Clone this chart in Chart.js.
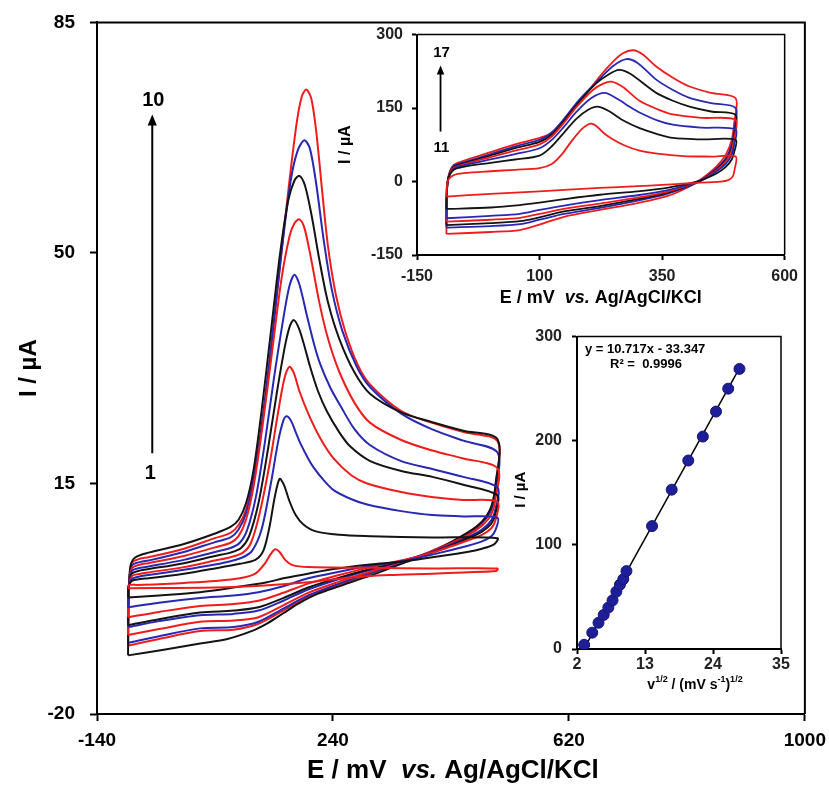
<!DOCTYPE html>
<html><head><meta charset="utf-8">
<script src="https://cdn.jsdelivr.net/npm/chart.js@4.4.1/dist/chart.umd.min.js"></script>
<style>
html,body{margin:0;padding:0;background:#fff;}
#wrap{position:relative;width:829px;height:785px;overflow:hidden;background:#fff;}
canvas{position:absolute;}
</style></head><body>
<div id="wrap">
<canvas id="main" width="829" height="785" style="left:0;top:0;width:829px;height:785px"></canvas>
<canvas id="ins1" width="470" height="290" style="left:330px;top:25px;width:470px;height:290px"></canvas>
<canvas id="ins2" width="300" height="390" style="left:500px;top:325px;width:300px;height:390px"></canvas>
</div>
<script>
// ---------------- DATA ----------------
// Main CV (curves 1-10): [E / mV, I / uA], forward (anodic) and reverse branches
const mainXTicks = [-140, 240, 620, 1000];
const mainYTicks = [-20, 15, 50, 85];

const cv1Fwd = [[-90,-0.8],[-88,-0.4],[-75,-0.4],[-40,-0.3],[0,-0.1],[50,0.2],[90,0.6],[115,1.3],[130,2.8],[140,4.3],[147,5.0],[154,4.6],[163,3.4],[175,2.6],[200,2.3],[300,2.2],[400,2.1],[505,2.1]];
const cv1Rev = [[503,1.7],[450,1.5],[400,1.3],[330,1.1],[265,0.7],[200,0.0],[130,-0.5],[50,-0.8],[-90,-0.9]];
const cv2Fwd = [[-90,-2.3],[-89,-0.6],[-84,0.2],[-70,0.5],[-57,0.6],[0,1.3],[50,2.1],[90,2.8],[115,3.4],[128,4.8],[138,8.5],[146,12.8],[154,15.7],[161,14.8],[170,12.3],[180,10.2],[192,8.8],[210,7.8],[250,7.2],[300,7.0],[400,6.8],[505,6.7]];
const cv2Rev = [[500,5.8],[480,5.1],[456,4.6],[400,3.8],[349,3.1],[300,2.7],[241,2.0],[200,1.3],[160,0.6],[134,0.0],[80,-0.8],[26,-1.5],[-40,-2.0],[-90,-2.3]];
const cv3Fwd = [[-90,-3.8],[-89,-0.5],[-84,0.5],[-70,0.9],[-57,1.1],[0,1.9],[50,2.7],[75,3.2],[95,3.8],[110,4.8],[125,8.0],[140,15.0],[152,21.5],[160,24.5],[165,25.2],[172,24.6],[180,22.8],[187,21.2],[200,18.8],[209,17.4],[225,15.5],[241,14.0],[270,12.6],[295,11.8],[350,10.8],[400,10.2],[450,10.0],[505,9.8]];
const cv3Rev = [[502,8.0],[495,7.0],[480,6.2],[456,5.5],[400,4.2],[350,3.2],[300,2.5],[250,1.6],[200,0.6],[160,-0.6],[120,-1.5],[80,-2.0],[26,-2.4],[-40,-3.1],[-90,-3.8]];
const cv4Fwd = [[-90,-5.3],[-89,-0.9],[-84,0.9],[-70,1.3],[-57,1.5],[0,2.3],[50,3.3],[75,3.8],[95,4.5],[108,6.0],[122,10.5],[138,18.0],[152,26.0],[162,31.0],[170,32.7],[177,31.8],[186,29.0],[203,25.0],[220,21.8],[241,18.8],[270,16.2],[295,15.0],[350,13.7],[402,12.9],[450,12.5],[505,12.2]];
const cv4Rev = [[502,9.5],[495,8.2],[480,7.2],[456,6.3],[400,4.5],[350,3.3],[300,2.3],[250,1.1],[200,-0.2],[160,-1.6],[120,-2.8],[80,-3.3],[26,-3.6],[-40,-4.5],[-90,-5.3]];
const cv5Fwd = [[-90,-6.5],[-89,-1.0],[-84,1.3],[-70,1.8],[-57,2.0],[0,2.9],[50,4.0],[75,4.5],[92,5.2],[105,7.0],[120,12.0],[135,20.0],[150,29.0],[163,36.0],[171,39.0],[177,39.8],[185,38.6],[193,36.2],[203,32.8],[216,29.0],[230,26.0],[250,22.8],[268,20.6],[300,18.4],[350,16.9],[400,16.0],[450,14.8],[505,13.2]];
const cv5Rev = [[502,10.5],[495,8.9],[480,7.7],[456,6.6],[400,4.5],[350,3.2],[300,2.0],[250,0.7],[200,-0.8],[160,-2.4],[120,-3.8],[80,-4.3],[26,-4.6],[-40,-5.6],[-90,-6.5]];
const cv6Fwd = [[-90,-6.8],[-89,-1.0],[-84,1.7],[-70,2.2],[-57,2.4],[0,3.4],[50,4.6],[75,5.2],[90,6.0],[102,8.0],[116,13.0],[130,21.0],[145,31.0],[160,40.0],[170,45.0],[178,46.7],[186,45.2],[198,40.5],[210,36.0],[220,33.0],[236,29.5],[252,26.8],[275,23.2],[300,20.8],[350,18.4],[400,17.2],[450,16.0],[505,14.4]];
const cv6Rev = [[502,11.2],[495,9.4],[480,8.0],[456,6.8],[400,4.6],[350,3.2],[300,1.9],[250,0.5],[200,-1.1],[160,-2.8],[120,-4.3],[80,-4.8],[26,-5.0],[-40,-5.9],[-90,-6.8]];
const cv7Fwd = [[-90,-8.0],[-89,-1.3],[-84,2.1],[-70,2.7],[-57,2.9],[0,4.0],[50,5.3],[75,6.0],[88,7.0],[100,9.5],[113,15.0],[127,24.0],[142,35.0],[157,46.0],[170,52.5],[178,54.5],[186,55.1],[194,53.8],[205,49.0],[218,42.5],[232,37.0],[250,32.0],[275,27.2],[300,24.2],[350,21.6],[400,20.0],[450,18.8],[505,17.3]];
const cv7Rev = [[502,12.8],[495,10.3],[480,8.6],[456,7.1],[400,4.7],[350,3.1],[300,1.6],[250,0.1],[200,-1.6],[160,-3.5],[120,-5.3],[80,-5.8],[26,-6.0],[-40,-7.1],[-90,-8.0]];
const cv8Fwd = [[-90,-11.1],[-89,-2.0],[-86,2.5],[-78,3.8],[-57,4.5],[0,5.8],[50,7.4],[75,8.4],[88,9.5],[100,12.0],[112,17.0],[125,26.0],[140,38.0],[155,50.0],[168,58.0],[178,61.0],[186,61.7],[195,60.2],[206,55.5],[218,49.0],[232,42.5],[250,37.0],[275,31.8],[300,28.6],[350,25.8],[400,24.3],[450,23.0],[505,21.7]];
const cv8Rev = [[502,15.0],[495,11.5],[480,9.2],[456,7.5],[400,4.6],[350,2.8],[300,1.0],[250,-0.6],[214,-1.8],[185,-3.2],[160,-4.7],[135,-6.2],[112,-7.3],[70,-8.6],[26,-9.3],[-30,-10.2],[-90,-11.1]];
const cv9Fwd = [[-90,-9.2],[-89,-1.5],[-84,2.5],[-70,3.1],[-57,3.3],[0,4.6],[50,6.1],[75,6.8],[88,8.0],[100,10.5],[113,16.0],[127,25.0],[142,37.0],[157,50.0],[172,61.0],[183,65.5],[194,67.1],[203,65.8],[213,60.5],[225,52.0],[238,44.5],[255,38.2],[278,32.8],[300,29.6],[350,25.6],[400,23.2],[450,21.5],[505,19.7]];
const cv9Rev = [[502,14.0],[495,11.0],[480,9.0],[456,7.3],[400,4.7],[350,3.0],[300,1.4],[250,-0.2],[200,-2.0],[160,-4.0],[120,-6.0],[80,-6.8],[26,-7.0],[-40,-8.2],[-90,-9.2]];
const cv10Fwd = [[-90,-9.6],[-89,-1.5],[-84,2.9],[-70,3.6],[-57,3.8],[0,5.1],[50,6.7],[75,7.5],[88,8.7],[100,11.0],[113,16.5],[127,25.0],[142,37.0],[157,50.0],[170,61.0],[182,70.0],[190,73.8],[197,74.8],[205,73.5],[213,68.5],[222,60.0],[232,51.0],[245,43.5],[260,38.0],[280,33.0],[300,30.0],[350,26.0],[400,24.2],[450,22.8],[505,21.4]];
const cv10Rev = [[502,14.8],[495,11.4],[480,9.2],[456,7.4],[400,4.8],[350,3.0],[300,1.3],[250,-0.3],[200,-2.2],[160,-4.3],[120,-6.3],[80,-7.2],[26,-7.4],[-40,-8.6],[-90,-9.6]];

// Inset CV (curves 11-17)
const insXTicks = [-150, 100, 350, 600];
const insYTicks = [-150, 0, 150, 300];
const cv11Fwd = [[-90,-31],[-89,-8],[-85,5],[-75,13],[-55,17],[0,21],[50,24],[100,27.5],[125,36],[145,55],[165,82],[185,106],[198,116],[206,118],[215,114],[232,98],[250,86],[275,73],[304,63],[340,57],[393,52],[450,51],[500,51]];
const cv11Rev = [[498,25],[494,10],[485,3],[470,0],[406,-3.5],[350,-7],[300,-9.5],[223,-13],[150,-17],[100,-20],[0,-25],[-90,-31]];
const cv12Fwd = [[-90,-56],[-89,-10],[-85,10],[-75,24],[-55,30],[0,38],[50,45],[100,53],[125,72],[150,100],[175,128],[200,147],[219,153],[243,143],[270,125],[304,109],[340,97],[372,89],[430,86],[500,85]];
const cv12Rev = [[497,60],[492,45],[480,30],[460,16],[430,3],[406,-4],[360,-13],[300,-20],[223,-27],[150,-36],[100,-43],[60,-48],[0,-53],[-90,-56]];
const cv13Fwd = [[-90,-75],[-89,-15],[-85,10],[-75,26],[-55,33],[0,45],[50,56],[100,68],[125,85],[150,112],[175,142],[205,170],[233,181],[260,168],[285,152],[304,141],[340,125],[372,116],[430,110],[500,106]];
const cv13Rev = [[497,75],[492,55],[480,36],[460,20],[430,2],[406,-6],[360,-18],[300,-28],[223,-38],[150,-49],[100,-58],[60,-66],[0,-70],[-90,-75]];
const cv14Fwd = [[-90,-82],[-89,-18],[-85,12],[-75,28],[-55,35],[0,50],[50,63],[100,76],[125,92],[150,120],[175,152],[210,188],[230,200],[247,204],[270,193],[304,165],[340,148],[372,137],[430,130],[500,126]];
const cv14Rev = [[497,88],[492,63],[480,41],[460,22],[430,2],[406,-7],[360,-21],[300,-33],[223,-45],[150,-56],[100,-66],[60,-74],[0,-78],[-90,-82]];
const cv15Fwd = [[-90,-89],[-89,-20],[-85,12],[-75,30],[-55,37],[0,53],[50,68],[100,81],[125,96],[150,124],[180,162],[215,200],[240,218],[262,228],[285,220],[338,181],[372,165],[406,153],[450,143],[500,136]];
const cv15Rev = [[497,95],[492,68],[480,44],[460,24],[430,2],[406,-8],[360,-23],[300,-36],[223,-50],[150,-61],[100,-73],[60,-81],[0,-85],[-90,-89]];
const cv16Fwd = [[-90,-94],[-89,-22],[-85,13],[-75,32],[-55,39],[0,56],[50,72],[100,85],[125,100],[150,128],[180,166],[223,210],[250,236],[277,250],[300,242],[338,208],[372,187],[406,171],[450,160],[500,150]];
const cv16Rev = [[497,105],[492,75],[480,48],[460,26],[430,3],[406,-9],[360,-25],[300,-39],[223,-54],[150,-66],[100,-78],[60,-87],[0,-91],[-90,-94]];
const cv17Fwd = [[-90,-107],[-89,-25],[-85,14],[-75,34],[-55,42],[0,60],[50,76],[100,89],[125,100],[168,147],[200,185],[223,215],[250,245],[270,262],[291,268],[310,260],[338,235],[372,212],[406,194],[450,181],[500,170]];
const cv17Rev = [[497,120],[492,85],[480,55],[460,30],[430,5],[406,-10],[360,-30],[300,-44],[223,-58],[150,-72],[100,-88],[60,-99],[0,-103],[-90,-107]];

// Peak current vs square root of scan rate
const fitXTicks = [2, 13, 24, 35];
const fitYTicks = [0, 100, 200, 300];
const sqrtScanRate = [3.16, 4.47, 5.48, 6.32, 7.07, 7.75, 8.37, 8.94, 9.49, 10.0, 14.14, 17.32, 20.0, 22.36, 24.49, 26.46, 28.28];
const peakCurrent  = [4, 15.7, 25.2, 32.7, 39.8, 46.7, 55.1, 61.7, 67.1, 74.8, 118, 153, 181, 204, 228, 250, 269];
const fitSlope = 10.717, fitIntercept = -33.347;

// ---------------- STYLE ----------------
const FONT = "'Liberation Sans', Arial, sans-serif";
const RED = '#f01c1c', BLUE = '#2828b4', BLACK = '#141414';
const mainColors = [RED, BLACK, BLUE, RED, BLACK, BLUE, RED, BLACK, BLUE, RED];
const insColors = [RED, BLACK, BLUE, RED, BLACK, BLUE, RED];

function toXY(fwd, rev) { return fwd.concat(rev).map(p => ({x: p[0], y: p[1]})); }

function axis(tickArr, min, max, o) {
  return {
    type: 'linear', min: min, max: max,
    afterBuildTicks: s => { s.ticks = tickArr.map(v => ({value: v})); },
    afterFit: o.fit,
    ticks: {callback: v => String(v), font: {family: FONT, size: o.fs, weight: 'bold'}, color: o.tc, padding: o.pad, autoSkip: false, maxRotation: 0},
    grid: {drawOnChartArea: false, drawTicks: true, tickLength: o.tl, tickColor: '#000', tickWidth: o.bw},
    border: {display: true, color: '#000', width: o.bw},
    title: {display: false}
  };
}
function frame(chart, w) {
  const ctx = chart.ctx, a = chart.chartArea;
  ctx.save(); ctx.strokeStyle = '#000'; ctx.lineWidth = w;
  ctx.beginPath(); ctx.moveTo(a.left, a.top); ctx.lineTo(a.right, a.top); ctx.lineTo(a.right, a.bottom); ctx.stroke();
  ctx.restore();
}
function textRun(ctx, parts, cx, cy, align) {
  let total = 0;
  parts.forEach(p => { ctx.font = p[1]; total += ctx.measureText(p[0]).width; });
  let x = align === 'left' ? cx : cx - total / 2;
  ctx.textAlign = 'left'; ctx.textBaseline = 'middle';
  parts.forEach(p => { ctx.font = p[1]; ctx.fillText(p[0], x, cy + (p[2] || 0)); x += ctx.measureText(p[0]).width; });
}
function arrow(ctx, x, yBottom, yTip, head, lw) {
  ctx.lineWidth = lw;
  ctx.beginPath(); ctx.moveTo(x, yBottom); ctx.lineTo(x, yTip + head * 0.8); ctx.stroke();
  ctx.beginPath(); ctx.moveTo(x, yTip); ctx.lineTo(x - head * 0.42, yTip + head); ctx.lineTo(x + head * 0.42, yTip + head); ctx.closePath(); ctx.fill();
}
function rotText(ctx, parts, x, y) {
  ctx.save(); ctx.translate(x, y); ctx.rotate(-Math.PI / 2); textRun(ctx, parts, 0, 0); ctx.restore();
}
// Build a chart, then move/resize its canvas so that the plot area lands on the wanted page rectangle
function build(id, makeCfg, target) {
  const cv = document.getElementById(id);
  let chart = new Chart(cv, makeCfg());
  const a = chart.chartArea, W = cv.width, H = cv.height;
  const left = parseFloat(cv.style.left) + (target.left - (parseFloat(cv.style.left) + a.left));
  const top = parseFloat(cv.style.top) + (target.top - (parseFloat(cv.style.top) + a.top));
  const w = Math.round(a.left + (target.right - target.left) + (W - a.right));
  const h = Math.round(a.top + (target.bottom - target.top) + (H - a.bottom));
  chart.destroy();
  cv.width = w; cv.height = h;
  cv.style.width = w + 'px'; cv.style.height = h + 'px';
  cv.style.left = Math.round(left) + 'px'; cv.style.top = Math.round(top) + 'px';
  return new Chart(cv, makeCfg());
}

const baseOpts = {responsive: false, animation: false, devicePixelRatio: 1, events: [],
  plugins: {legend: {display: false}, tooltip: {enabled: false}}};

// ---------------- MAIN CHART ----------------
const mainCurves = [[cv1Fwd,cv1Rev],[cv2Fwd,cv2Rev],[cv3Fwd,cv3Rev],[cv4Fwd,cv4Rev],[cv5Fwd,cv5Rev],[cv6Fwd,cv6Rev],[cv7Fwd,cv7Rev],[cv8Fwd,cv8Rev],[cv9Fwd,cv9Rev],[cv10Fwd,cv10Rev]];
const mainDeco = {
  id: 'mainDeco',
  afterDraw(chart) {
    const ctx = chart.ctx, xs = chart.scales.x, ys = chart.scales.y, a = chart.chartArea;
    frame(chart, 2);
    ctx.save(); ctx.fillStyle = '#000'; ctx.strokeStyle = '#000';
    const ax = xs.getPixelForValue(-51);
    arrow(ctx, ax, ys.getPixelForValue(19.6), ys.getPixelForValue(71), 11, 2);
    const f20 = 'bold 20px ' + FONT;
    textRun(ctx, [['10', f20]], ax + 1, ys.getPixelForValue(73.2));
    textRun(ctx, [['1', f20]], ax - 2, ys.getPixelForValue(16.5));
    const f = 'bold 26px ' + FONT, fi = 'italic bold 26px ' + FONT;
    textRun(ctx, [['E / mV  ', f], ['vs.', fi], [' Ag/AgCl/KCl', f]], (a.left + a.right) / 2 + 2, a.bottom + 57);
    rotText(ctx, [['I / µA', 'bold 24px ' + FONT]], a.left - 68, (a.top + a.bottom) / 2);
    ctx.restore();
  }
};
build('main', () => ({
  type: 'scatter',
  data: {datasets: mainCurves.map((c, i) => ({data: toXY(c[0], c[1]), borderColor: mainColors[i], borderWidth: 2, showLine: true, pointRadius: 0, tension: 0.3, fill: false}))},
  options: Object.assign({}, baseOpts, {
    layout: {padding: {left: 0, top: 22, right: 24, bottom: 0}},
    scales: {
      x: axis(mainXTicks, -140, 1000, {fit: s => { s.height = 71; }, fs: 19, tc: '#000', pad: 8, tl: 7, bw: 2}),
      y: axis(mainYTicks, -20, 85, {fit: s => { s.width = 97; }, fs: 19, tc: '#000', pad: 15, tl: 7, bw: 2})
    }
  }),
  plugins: [mainDeco]
}), {left: 97, top: 22, right: 805, bottom: 714});

// ---------------- INSET CV ----------------
const insCurves = [[cv11Fwd,cv11Rev],[cv12Fwd,cv12Rev],[cv13Fwd,cv13Rev],[cv14Fwd,cv14Rev],[cv15Fwd,cv15Rev],[cv16Fwd,cv16Rev],[cv17Fwd,cv17Rev]];
const insDeco = {
  id: 'insDeco',
  afterDraw(chart) {
    const ctx = chart.ctx, xs = chart.scales.x, ys = chart.scales.y, a = chart.chartArea;
    frame(chart, 1.5);
    ctx.save(); ctx.fillStyle = '#000'; ctx.strokeStyle = '#000';
    const ax = xs.getPixelForValue(-102);
    arrow(ctx, ax, ys.getPixelForValue(102), ys.getPixelForValue(237), 9, 1.8);
    const f15 = 'bold 15px ' + FONT;
    textRun(ctx, [['17', f15]], ax + 1, ys.getPixelForValue(262));
    textRun(ctx, [['11', f15]], ax + 1, ys.getPixelForValue(68));
    const f = 'bold 18px ' + FONT, fi = 'italic bold 18px ' + FONT;
    textRun(ctx, [['E / mV  ', f], ['vs.', fi], [' Ag/AgCl/KCl', f]], (a.left + a.right) / 2, a.bottom + 43);
    rotText(ctx, [['I / µA', 'bold 16px ' + FONT]], a.left - 71, a.top + 110);
    ctx.restore();
  }
};
build('ins1', () => ({
  type: 'scatter',
  data: {datasets: insCurves.map((c, i) => ({data: toXY(c[0], c[1]), borderColor: insColors[i], borderWidth: 1.8, showLine: true, pointRadius: 0, tension: 0.3, fill: false}))},
  options: Object.assign({}, baseOpts, {
    layout: {padding: {left: 0, top: 10, right: 15, bottom: 0}},
    scales: {
      x: axis(insXTicks, -150, 600, {fit: s => { s.height = 60; }, fs: 16, tc: '#222', pad: 7, tl: 5, bw: 2}),
      y: axis(insYTicks, -150, 300, {fit: s => { s.width = 87; }, fs: 16, tc: '#222', pad: 9, tl: 5, bw: 2})
    }
  }),
  plugins: [insDeco]
}), {left: 417, top: 35, right: 785, bottom: 255});

// ---------------- INSET FIT ----------------
const fitX0 = Math.min.apply(null, sqrtScanRate), fitX1 = Math.max.apply(null, sqrtScanRate);
const fitDeco = {
  id: 'fitDeco',
  afterDraw(chart) {
    const ctx = chart.ctx, a = chart.chartArea;
    frame(chart, 1.5);
    ctx.save(); ctx.fillStyle = '#000';
    const fe = 'bold 13px ' + FONT;
    textRun(ctx, [['y = 10.717x - 33.347', fe]], a.left + 8, a.top + 13, 'left');
    textRun(ctx, [['R² =  0.9996', fe]], a.left + 33, a.top + 28, 'left');
    rotText(ctx, [['I / µA', 'bold 15px ' + FONT]], a.left - 56, (a.top + a.bottom) / 2 - 3);
    const f = 'bold 14px ' + FONT, fs = 'bold 9px ' + FONT;
    textRun(ctx, [['v', f], ['1/2', fs, -5], [' / (mV s', f], ['-1', fs, -5], [')', f], ['1/2', fs, -5]], a.left + 118, a.bottom + 36);
    ctx.restore();
  }
};
build('ins2', () => ({
  type: 'scatter',
  data: {datasets: [
    {data: sqrtScanRate.map((v, i) => ({x: v, y: peakCurrent[i]})), pointRadius: 5.5, pointBackgroundColor: '#1e1e96', pointBorderColor: '#15157a', pointBorderWidth: 1, showLine: false},
    {data: [{x: fitX0, y: fitSlope * fitX0 + fitIntercept}, {x: fitX1, y: fitSlope * fitX1 + fitIntercept}], borderColor: '#000', borderWidth: 1.5, pointRadius: 0, showLine: true}
  ]},
  options: Object.assign({}, baseOpts, {
    layout: {padding: {left: 0, top: 12, right: 19, bottom: 0}},
    scales: {
      x: axis(fitXTicks, 2, 35, {fit: s => { s.height = 66; }, fs: 16, tc: '#222', pad: 1, tl: 5, bw: 2}),
      y: axis(fitYTicks, 0, 300, {fit: s => { s.width = 77; }, fs: 16, tc: '#222', pad: 10, tl: 5, bw: 2})
    }
  }),
  plugins: [fitDeco]
}), {left: 577, top: 337, right: 781, bottom: 649});
</script>
</body></html>
